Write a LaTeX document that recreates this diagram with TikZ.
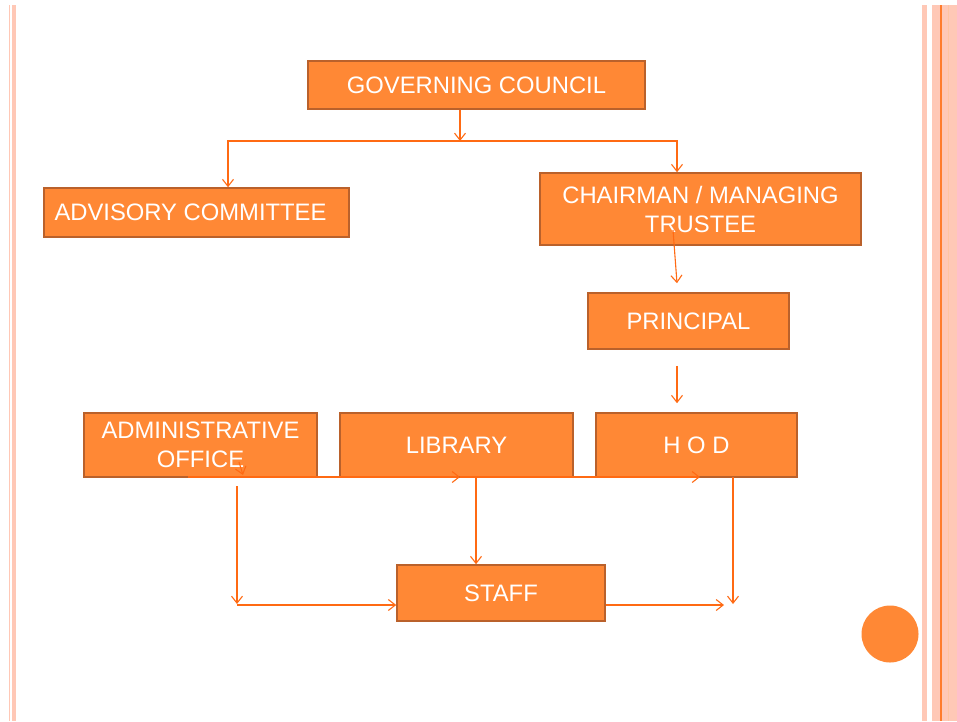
\documentclass[tikz,border=0pt]{standalone}
\usepackage{fontspec}
\setmainfont{Liberation Sans}
\usepackage{xcolor}
\usepackage{tikz}
\usetikzlibrary{arrows.meta, calc, shadows}
\definecolor{boxfill}{HTML}{FF8835}
\definecolor{boxedge}{HTML}{BA612B}
\definecolor{linkcol}{HTML}{FF6A13}
\definecolor{stripe}{HTML}{FFC8B6}
\definecolor{stripeline}{HTML}{FF7C2C}
\newcommand{\orgfont}{\fontsize{23.8}{29}\selectfont}
\tikzset{
	orgbox/.style={draw=boxedge, fill=boxfill, line width=1.6pt, text=white, font=\orgfont,
		align=center, inner sep=0pt, drop shadow={shadow xshift=1pt, shadow yshift=-1pt, fill=black!30, opacity=0.5}},
	link/.style={draw=linkcol, line width=1.1pt, -{Straight Barb[length=7pt, width=11pt]}}
}

\begin{document}
\begin{tikzpicture}[x=1pt, y=-1pt]
	\useasboundingbox (0,0) rectangle (957,721);

	% page stripes
	\fill[white] (0,0) rectangle (957,721);
	\draw[stripe, line width=1.2pt] (9.6,5) -- (9.6,721);
	\fill[stripe] (12,5) rectangle (15.7,721);
	\fill[stripe] (922,5) rectangle (927,721);
	\fill[stripe] (932,5) rectangle (957,721);
	\draw[stripeline, line width=2pt] (941,5) -- (941,721);
	\draw[stripeline!45, line width=1.2pt] (948.5,5) -- (948.5,721);
	\fill[boxfill] (890,634) circle (28.5);

	% boxes
	\node[orgbox, minimum width=337, minimum height=48] (council) at (476.5,85) {GOVERNING COUNCIL};
	\node[orgbox, minimum width=305, minimum height=49] (advisory) at (196.5,212.5) {ADVISORY COMMITTEE\hspace{12pt}};
	\node[orgbox, minimum width=321, minimum height=72] (chairman) at (700.5,209) {CHAIRMAN / MANAGING\\TRUSTEE};
	\node[orgbox, minimum width=201, minimum height=56] (principal) at (688.5,321) {PRINCIPAL};
	\node[orgbox, minimum width=233, minimum height=64] (admin) at (200.5,445) {ADMINISTRATIVE\\OFFICE};
	\node[orgbox, minimum width=233, minimum height=64] (library) at (456.5,445) {LIBRARY};
	\node[orgbox, minimum width=201, minimum height=64] (hod) at (696.5,445) {H O D};
	\node[orgbox, minimum width=208, minimum height=56] (staff) at (501,593) {STAFF};

	% council branches
	\coordinate (split) at (460,141);
	\draw[link] (council.south -| split) -- (split);
	\draw[link] (split) -| ($(advisory.north)+(31.5,0)$);
	\draw[link] (split) -| ($(chairman.north)+(-23.5,0)$);

	\draw[link] ($(chairman.center)+(-27.5,21)$) -- ($(principal.north)+(-11.5,-9)$);
	\draw[link] ($(principal.south)+(-11.5,16)$) -- ($(hod.north)+(-19.5,-9)$);

	% bottom row
	\coordinate (rowstart) at (188,477);
	\coordinate (libtip) at (460,477);
	\coordinate (hodtip) at (700,477);
	\draw[link] ($(admin.center)+(38.5,17)$) -- ($(admin.center)+(42.5,30)$);
	\draw[link] (rowstart) -- (libtip);
	\draw[link] (libtip) -- (hodtip);

	\coordinate (admdrop) at (237,486);
	\coordinate (admcorner) at (237,605);
	\draw[link] (admdrop) -- ($(admcorner)+(0,-1)$);
	\draw[link] (admcorner) -- (staff.west |- admcorner);

	\coordinate (libdrop) at (476,477);
	\draw[link] (libdrop) -- (libdrop |- staff.north);

	\coordinate (staffend) at (724,605);
	\draw[link] (staff.east |- staffend) -- (staffend);

	\coordinate (hoddrop) at (733,477);
	\draw[link] (hoddrop) -- (733,604);
\end{tikzpicture}
\end{document}
